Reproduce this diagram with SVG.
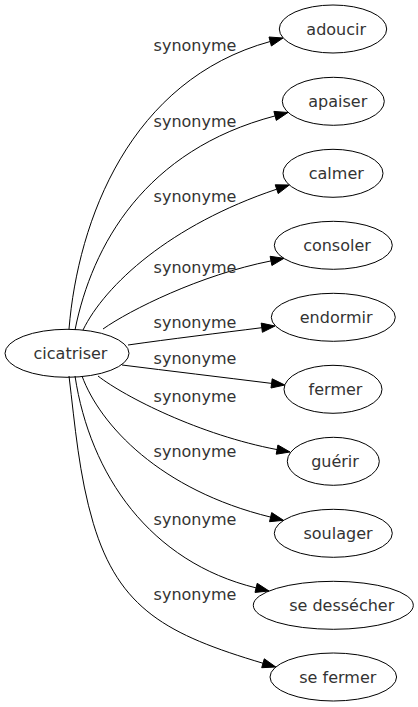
<svg xmlns="http://www.w3.org/2000/svg" width="418" height="707" viewBox="0 0 418 707">
<style>
.n ellipse{fill:none;stroke:#000;stroke-width:1}
text{font-family:"DejaVu Sans",sans-serif;font-size:16px;fill:#333;text-anchor:middle}
.e path{fill:none;stroke:#000;stroke-width:1}
.e polygon{fill:#000;stroke:#000;stroke-width:1}
</style>
<rect width="418" height="707" fill="#fff"/>
<g class="e" id="edges">
<path d="M69,329 C78,220 130,80 270.2,41.5"/><polygon points="283,38 271.4,46 269,37"/>
<path d="M75,330 C92,245 145,150 275.1,115.9"/><polygon points="288,112.5 276.3,120.4 273.9,111.4"/>
<path d="M83,330 C105,285 170,225 276.7,189.2"/><polygon points="289.3,185 278.2,193.6 275.2,184.8"/>
<path d="M103,329 C130,310 200,275 271,260.9"/><polygon points="284,258.3 271.9,265.5 270.1,256.3"/>
<path d="M128,345 C170,339 220,333 261.8,327.7"/><polygon points="275,326 262.4,332.3 261.2,323.1"/>
<path d="M122,365 C170,371 220,377 271.6,383.4"/><polygon points="284.8,385 271,388 272.2,378.8"/>
<path d="M98,376 C125,397 200,435 277.1,449.6"/><polygon points="290,452 276.2,454.2 277.9,445"/>
<path d="M82,376 C100,425 160,490 270.6,517.1"/><polygon points="283.5,520.3 269.5,521.7 271.7,512.6"/>
<path d="M75,376 C90,475 150,562 256.1,587.9"/><polygon points="269,591 255,592.4 257.2,583.3"/>
<path d="M69,376 C75,425.5 79,475.4 93.3,523.3 C119.1,609.5 167.2,634.7 263,663.25"/><polygon points="275.8,667 261.7,667.7 264.3,658.8"/>
<text x="195" y="51">synonyme</text>
<text x="195" y="127">synonyme</text>
<text x="195" y="202">synonyme</text>
<text x="195" y="273">synonyme</text>
<text x="195" y="327.5">synonyme</text>
<text x="195" y="364">synonyme</text>
<text x="195" y="402">synonyme</text>
<text x="195" y="457">synonyme</text>
<text x="195" y="524.5">synonyme</text>
<text x="195" y="600">synonyme</text>
</g>
<g class="n" id="cicatriser"><ellipse cx="67" cy="353.3" rx="62" ry="24"/><text x="70.5" y="358.8">cicatriser</text></g>
<g class="n" id="adoucir"><ellipse cx="333" cy="29" rx="53.7" ry="24"/><text x="336.2" y="34.5">adoucir</text></g>
<g class="n" id="apaiser"><ellipse cx="333.3" cy="101.3" rx="51" ry="24"/><text x="337.8" y="106.8">apaiser</text></g>
<g class="n" id="calmer"><ellipse cx="333" cy="173.3" rx="50" ry="24"/><text x="336.3" y="178.8">calmer</text></g>
<g class="n" id="consoler"><ellipse cx="333.3" cy="245.3" rx="59" ry="24"/><text x="337" y="250.8">consoler</text></g>
<g class="n" id="endormir"><ellipse cx="333.3" cy="317.3" rx="62" ry="24"/><text x="336.2" y="322.8">endormir</text></g>
<g class="n" id="fermer"><ellipse cx="333" cy="389.3" rx="49" ry="24"/><text x="335.5" y="394.8">fermer</text></g>
<g class="n" id="guerir"><ellipse cx="333.3" cy="461.3" rx="46" ry="24"/><text x="335" y="466.8">guérir</text></g>
<g class="n" id="soulager"><ellipse cx="333.3" cy="533.3" rx="59" ry="24"/><text x="338" y="538.8">soulager</text></g>
<g class="n" id="se-dessecher"><ellipse cx="333.3" cy="605.3" rx="80" ry="24"/><text x="341.7" y="610.8">se dessécher</text></g>
<g class="n" id="se-fermer"><ellipse cx="333.3" cy="677" rx="63.3" ry="24"/><text x="337.8" y="682.5">se fermer</text></g>
</svg>
